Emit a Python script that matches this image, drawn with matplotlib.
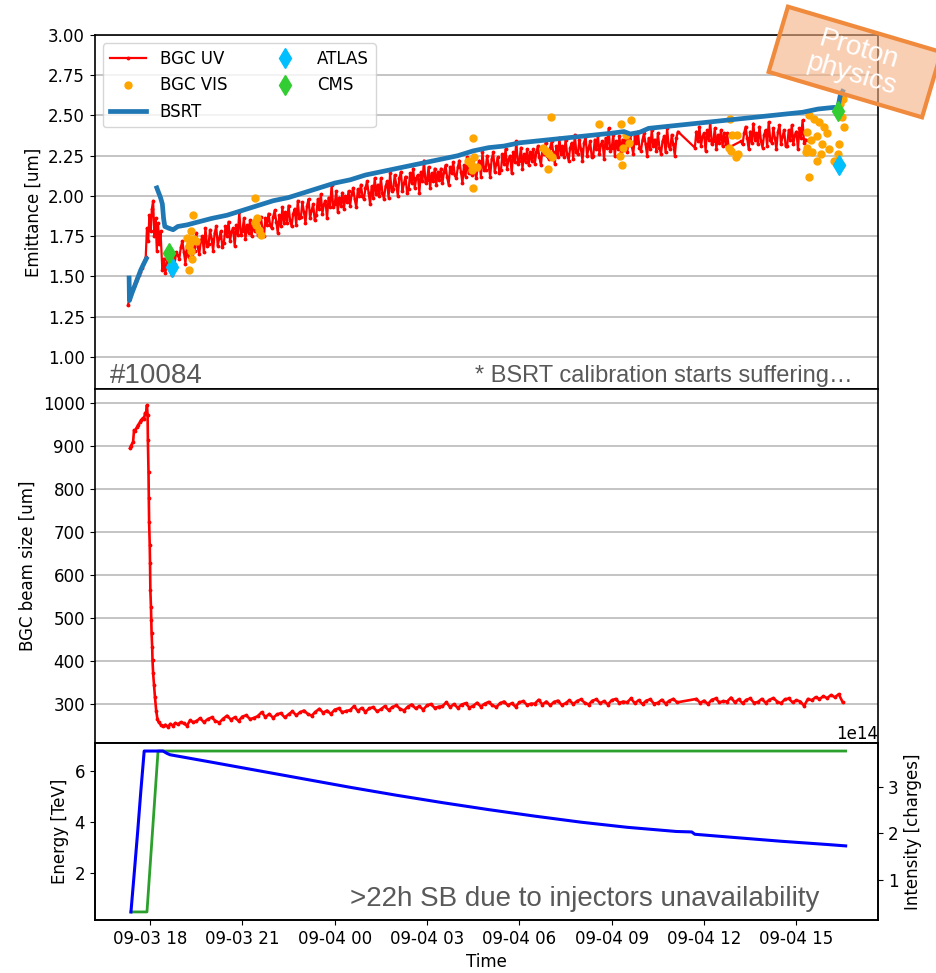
import numpy as np
import pandas as pd
import matplotlib
matplotlib.use("Agg")
import matplotlib.pyplot as plt
import matplotlib.dates as mdates
from matplotlib.patches import Rectangle
from matplotlib.ticker import MultipleLocator

# hours counted from 2024-09-03 00:00
T0 = pd.Timestamp("2024-09-03")

# --- BGC UV emittance ---
uv_ramp_hours = [17.28, 17.33, 17.38, 17.43, 17.48, 17.53, 17.58, 17.63, 17.68, 17.73, 17.78,
                 17.86, 17.90, 17.94, 17.98, 18.02, 18.06, 18.10, 18.14, 18.18, 18.22, 18.26,
                 18.30, 18.34]
uv_ramp = [1.32, 1.36, 1.39, 1.42, 1.44, 1.47, 1.49, 1.51, 1.53, 1.55, 1.58,
           1.62, 1.80, 1.72, 1.88, 1.78, 1.92, 1.97, 1.75, 1.86, 1.66, 1.83, 1.70, 1.78]
# logged every 0.05 h
uv_seg1_start = 18.4
uv_seg1 = [1.54, 1.61, 1.52, 1.59, 1.63, 1.56, 1.51, 1.62, 1.58, 1.65,
           1.63, 1.61, 1.68, 1.72, 1.65, 1.58, 1.69, 1.62, 1.74, 1.64,
           1.73, 1.66, 1.77, 1.68, 1.64, 1.72, 1.75, 1.65, 1.80, 1.69,
           1.70, 1.79, 1.73, 1.66, 1.77, 1.81, 1.69, 1.74, 1.78, 1.68,
           1.71, 1.81, 1.75, 1.84, 1.72, 1.78, 1.80, 1.69, 1.82, 1.76,
           1.90, 1.76, 1.78, 1.86, 1.73, 1.82, 1.77, 1.85, 1.75, 1.83,
           1.78, 1.85, 1.76, 1.83, 1.87, 1.80, 1.75, 1.86, 1.82, 1.89,
           1.82, 1.80, 1.87, 1.91, 1.84, 1.77, 1.88, 1.81, 1.93, 1.83,
           1.90, 1.83, 1.94, 1.85, 1.81, 1.89, 1.92, 1.82, 1.97, 1.86,
           1.87, 1.96, 1.90, 1.83, 1.94, 1.98, 1.86, 1.91, 1.95, 1.85,
           1.88, 1.98, 1.92, 2.01, 1.89, 1.95, 1.97, 1.86, 1.99, 1.93,
           2.07, 1.93, 1.95, 2.03, 1.90, 1.99, 1.94, 2.02, 1.92, 2.00,
           1.96, 2.03, 1.94, 2.01, 2.05, 1.98, 1.93, 2.04, 2.00, 2.07,
           2.00, 1.98, 2.05, 2.09, 2.02, 1.95, 2.06, 1.99, 2.11, 2.01,
           2.07, 2.00, 2.11, 2.02, 1.98, 2.06, 2.09, 1.99, 2.14, 2.03,
           2.04, 2.13, 2.07, 2.00, 2.11, 2.15, 2.03, 2.08, 2.12, 2.02,
           2.04, 2.14, 2.08, 2.17, 2.05, 2.11, 2.13, 2.02, 2.15, 2.09,
           2.22, 2.08, 2.10, 2.18, 2.05, 2.14, 2.09, 2.17, 2.07, 2.15,
           2.10, 2.17, 2.08, 2.15, 2.19, 2.12, 2.07, 2.18, 2.14, 2.21,
           2.13, 2.11, 2.18, 2.22, 2.15, 2.08, 2.19, 2.12, 2.24, 2.14,
           2.20, 2.13, 2.24, 2.15, 2.11, 2.19, 2.22, 2.12, 2.27, 2.16,
           2.16, 2.25, 2.19, 2.12, 2.23, 2.27, 2.15, 2.20, 2.24, 2.14,
           2.16, 2.26, 2.20, 2.29, 2.17, 2.23, 2.25, 2.14, 2.27, 2.21,
           2.34, 2.20, 2.22, 2.30, 2.17, 2.26, 2.21, 2.29, 2.19, 2.27,
           2.22, 2.29, 2.20, 2.27, 2.31, 2.24, 2.19, 2.30, 2.26, 2.33,
           2.25, 2.23, 2.30, 2.34, 2.27, 2.20, 2.31, 2.24, 2.36, 2.26,
           2.31, 2.24, 2.35, 2.26, 2.22, 2.30, 2.33, 2.23, 2.38, 2.27,
           2.26, 2.35, 2.29, 2.22, 2.33, 2.37, 2.25, 2.30, 2.34, 2.24,
           2.25, 2.35, 2.29, 2.38, 2.26, 2.32, 2.34, 2.23, 2.36, 2.30,
           2.42, 2.28, 2.30, 2.38, 2.25, 2.34, 2.29, 2.37, 2.27, 2.35,
           2.29, 2.36, 2.27, 2.34, 2.38, 2.31, 2.26, 2.37, 2.33, 2.40,
           2.30, 2.28, 2.35, 2.39, 2.32, 2.25, 2.36, 2.29, 2.41, 2.31,
           2.35, 2.28, 2.39, 2.30, 2.26, 2.34, 2.37, 2.27, 2.42, 2.31,
           2.29, 2.38, 2.32, 2.25, 2.36, 2.40]
uv_seg2_start = 35.7
uv_seg2 = [2.30, 2.40, 2.34, 2.43, 2.31, 2.37, 2.39, 2.28, 2.41, 2.35,
           2.46, 2.32, 2.34, 2.42, 2.29, 2.38, 2.33, 2.41, 2.31, 2.39,
           2.32, 2.39, 2.30]
uv_seg3_start = 37.2
uv_seg3 = [2.34, 2.32, 2.39, 2.43, 2.36, 2.29, 2.40, 2.33, 2.45, 2.35,
           2.39, 2.32, 2.43, 2.34, 2.30, 2.38, 2.41, 2.31, 2.46, 2.35,
           2.33, 2.42, 2.36, 2.29, 2.40, 2.44, 2.32, 2.37, 2.41, 2.31,
           2.31, 2.41, 2.35, 2.44, 2.32, 2.38, 2.40, 2.29, 2.42, 2.36,
           2.47, 2.33, 2.35]

# --- BGC VIS emittance ---
vis_hours = [19.40, 19.33, 19.20, 19.30, 19.43, 19.49, 19.27, 19.33, 19.35, 19.27,
             21.41, 21.47, 21.44, 21.54, 21.60, 21.41,
             28.49, 28.33, 28.42, 28.52, 28.62, 28.46, 28.49,
             31.02, 30.76, 30.86, 30.95, 31.05, 30.92, 32.60,
             33.30, 33.62, 33.35, 33.55, 33.28, 33.32, 33.45,
             36.83, 36.90, 37.06, 36.80, 36.87, 37.03, 37.10,
             39.40, 39.56, 39.72, 39.89, 39.98, 39.66, 39.46, 39.33, 39.82, 40.05,
             39.50, 39.66, 39.79, 40.38, 40.35, 40.45, 39.40, 40.22, 40.54, 40.48,
             40.42, 40.32, 40.50, 39.36, 39.30]
vis_vals = [1.88, 1.78, 1.74, 1.71, 1.73, 1.72, 1.69, 1.66, 1.61, 1.54,
            1.99, 1.86, 1.82, 1.79, 1.76, 1.84,
            2.36, 2.22, 2.20, 2.24, 2.18, 2.16, 2.05,
            2.49, 2.30, 2.28, 2.26, 2.24, 2.17, 2.45,
            2.45, 2.47, 2.30, 2.33, 2.25, 2.19, 2.38,
            2.48, 2.38, 2.38, 2.30, 2.28, 2.24, 2.26,
            2.50, 2.48, 2.46, 2.43, 2.39, 2.37, 2.35, 2.30, 2.32, 2.29,
            2.27, 2.22, 2.26, 2.32, 2.26, 2.19, 2.12, 2.22, 2.43, 2.49,
            2.57, 2.53, 2.60, 2.40, 2.27]

# --- BSRT emittance ---
bsrt_hours = [17.32, 17.33, 17.40, 17.50, 17.60, 17.70, 17.80, 17.88, 18.00,
              18.22, 18.28, 18.34, 18.40, 18.44, 18.48, 18.60, 18.75, 18.90, 19.20,
              19.60, 20.00, 20.50, 21.00, 21.50, 22.00, 22.50, 23.00, 23.50, 24.00,
              24.50, 25.00, 25.50, 26.00, 26.50, 27.00, 27.50, 28.00, 28.50, 29.00,
              29.50, 30.00, 30.50, 31.00, 31.50, 32.00, 32.50, 33.00, 33.40, 33.60,
              33.90, 34.20, 34.70, 35.20, 35.70, 36.20, 36.70, 37.20, 37.70, 38.20,
              38.70, 39.20, 39.70, 40.20, 40.35, 40.42, 40.50]
bsrt_vals = [1.49, 1.35, 1.39, 1.44, 1.49, 1.54, 1.58, 1.61, np.nan,
             2.05, 2.02, 1.99, 1.95, 1.86, 1.81, 1.80, 1.79, 1.81, 1.82,
             1.84, 1.86, 1.88, 1.91, 1.94, 1.97, 1.99, 2.02, 2.05, 2.08,
             2.10, 2.13, 2.15, 2.17, 2.19, 2.21, 2.23, 2.25, 2.28, 2.30,
             2.31, 2.33, 2.34, 2.35, 2.36, 2.37, 2.38, 2.39, 2.40, 2.385,
             2.395, 2.42, 2.43, 2.44, 2.45, 2.46, 2.47, 2.48, 2.49, 2.50,
             2.51, 2.52, 2.54, 2.55, 2.55, 2.62, 2.65]

# --- experiments ---
atlas_hours = [18.72, 40.40]
atlas_vals = [1.56, 2.19]
cms_hours = [18.62, 40.34]
cms_vals = [1.645, 2.53]

# --- BGC beam size ---
size_ramp_hours = [17.35, 17.38, 17.45, 17.48, 17.51, 17.58, 17.61, 17.68, 17.71, 17.77,
                   17.80, 17.84, 17.87, 17.90, 17.92, 17.93, 17.95, 17.96, 17.97, 17.99,
                   18.00, 18.01, 18.03, 18.04, 18.05, 18.07, 18.08, 18.10, 18.13, 18.16,
                   18.20, 18.24, 18.28, 18.35, 18.42, 18.50, 18.58, 18.66, 18.74, 18.82,
                   18.90, 19.00, 19.10, 19.20, 19.30, 19.40]
size_ramp = [895, 900, 910, 937, 935, 944, 948, 956, 960, 965,
             962, 977, 975, 995, 972, 914, 840, 779, 723, 670,
             628, 565, 526, 495, 465, 433, 402, 372, 344, 316,
             285, 265, 258, 252, 248, 252, 247, 254, 250, 256,
             253, 258, 255, 250, 262, 258]
# logged every 0.125 h
size_seg1_start = 19.5
size_seg1 = [260, 267, 258, 265, 269, 261, 257, 266,
             273, 264, 269, 261, 271, 274, 265, 268,
             272, 281, 270, 277, 268, 276, 279, 269,
             276, 283, 274, 281, 285, 277, 273, 282,
             289, 280, 285, 277, 287, 290, 281, 284,
             286, 295, 284, 291, 282, 290, 293, 283,
             288, 295, 286, 293, 297, 289, 285, 294,
             299, 290, 295, 287, 297, 300, 291, 294,
             295, 304, 293, 300, 291, 299, 302, 292,
             296, 303, 294, 301, 305, 297, 293, 302,
             306, 297, 302, 294, 304, 307, 298, 301,
             301, 310, 299, 306, 297, 305, 308, 298,
             302, 309, 300, 307, 311, 303, 299, 308,
             311, 302, 307, 299, 309, 312, 303, 306,
             304, 313, 302, 309, 300, 308, 311, 301,
             303, 310, 301, 308, 312, 304]
size_seg2_start = 35.75
size_seg2 = [312, 303, 308, 300, 310, 313, 304, 307,
             306, 315, 304, 311, 302, 310, 313, 303,
             305, 312, 303, 310, 314, 306, 302, 311,
             313, 304, 309, 306, 296, 312, 309, 316,
             312, 318, 314, 321, 316, 323, 305]

# --- beam energy and intensity ---
energy_hours = [17.38, 17.90, 18.26, 40.60]
energy_tev = [0.45, 0.45, 6.8, 6.8]
inten_hours = [17.38, 17.50, 17.60, 17.70, 17.81, 18.42, 18.55, 18.65, 20.0, 21.5,
               23.0, 24.5, 26.0, 27.5, 29.0, 30.5, 32.0, 33.5, 35.1, 35.6, 35.7,
               37.0, 38.5, 40.0, 40.6]
inten_1e14 = [0.31, 1.25, 2.05, 2.90, 3.77, 3.77, 3.72, 3.69, 3.53, 3.35,
              3.17, 2.99, 2.82, 2.66, 2.51, 2.37, 2.24, 2.13, 2.04, 2.03, 1.98,
              1.91, 1.83, 1.76, 1.73]


def to_time(hours):
    return T0 + pd.to_timedelta(np.asarray(hours, dtype=float), unit="h")


def sampled(start, step, vals):
    return np.round(start + step * np.arange(len(vals)), 3)


uv_h = np.concatenate([uv_ramp_hours, sampled(uv_seg1_start, 0.05, uv_seg1),
                       sampled(uv_seg2_start, 0.05, uv_seg2), sampled(uv_seg3_start, 0.05, uv_seg3)])
uv_v = np.concatenate([uv_ramp, uv_seg1, uv_seg2, uv_seg3])
size_h = np.concatenate([size_ramp_hours, sampled(size_seg1_start, 0.125, size_seg1),
                         sampled(size_seg2_start, 0.125, size_seg2)])
size_v = np.concatenate([size_ramp, size_seg1, size_seg2])

plt.rcParams["font.size"] = 12
fig, (ax1, ax2, ax3) = plt.subplots(3, 1, sharex=True, figsize=(9.37, 9.73), dpi=100,
                                    gridspec_kw={"height_ratios": [2, 2, 1], "hspace": 0})
fig.subplots_adjust(left=0.101, right=0.937, top=0.964, bottom=0.0545)

ax1.plot(to_time(uv_h), uv_v, color="red", lw=1.6, marker=".", ms=3.5, label="BGC UV")
ax1.plot(to_time(vis_hours), vis_vals, "o", color="orange", ms=5, ls="none", label="BGC VIS")
ax1.plot(to_time(bsrt_hours), bsrt_vals, color="#1f77b4", lw=3.4, label="BSRT")
ax1.plot(to_time(atlas_hours), atlas_vals, "d", color="deepskyblue", ms=10, ls="none", label="ATLAS")
ax1.plot(to_time(cms_hours), cms_vals, "d", color="limegreen", ms=10, ls="none", label="CMS")
ax1.set_ylim(0.8, 3.0)
ax1.yaxis.set_major_locator(MultipleLocator(0.25))
ax1.set_ylabel("Emittance [um]")
ax1.grid(axis="y", color="0.75", lw=1.3)
ax1.legend(loc="upper left", ncol=2, fontsize=12, handlelength=2.2, columnspacing=2.4)

ann = dict(color="#595959", family="Liberation Sans")
ax1.text(0.019, 0.017, "#10084", transform=ax1.transAxes, fontsize=20, va="baseline", **ann)
ax1.text(0.968, 0.02, "* BSRT calibration starts suffering…", transform=ax1.transAxes,
         fontsize=17, ha="right", va="baseline", **ann)

ax2.plot(to_time(size_h), size_v, color="red", lw=1.9, marker=".", ms=3.5)
ax2.set_ylabel("BGC beam size [um]")
ax2.grid(axis="y", color="0.75", lw=1.3)

ax3.plot(to_time(energy_hours), energy_tev, color="#2ca02c", lw=2)
ax3.set_ylabel("Energy [TeV]")
ax3.yaxis.set_major_locator(MultipleLocator(2))
ax3b = ax3.twinx()
ax3b.plot(to_time(inten_hours), np.array(inten_1e14) * 1e14, color="blue", lw=2.2)
ax3b.yaxis.set_major_locator(MultipleLocator(1e14))
ax3b.set_ylabel("Intensity [charges]")
ax3.text(0.326, 0.079, ">22h SB due to injectors unavailability", transform=ax3.transAxes,
         fontsize=20, va="baseline", **ann)

ax3.set_xlim(to_time([16.2])[0], to_time([41.65])[0])
ax3.xaxis.set_major_locator(mdates.HourLocator(byhour=range(0, 24, 3)))
ax3.xaxis.set_major_formatter(mdates.DateFormatter("%m-%d %H"))
ax3.set_xlabel("Time")

for a in (ax1, ax2, ax3, ax3b):
    for s in a.spines.values():
        s.set_linewidth(1.2)

# "Proton physics" tag, half outside the top right corner
box = Rectangle((7.75, 8.77), 1.6, 0.68, angle=-16.5, rotation_point="center",
                transform=fig.dpi_scale_trans, facecolor=(0.96, 0.69, 0.51, 0.6),
                edgecolor="#f08a3c", lw=3, clip_on=False)
fig.add_artist(box)
fig.text(8.55 / 9.37, 9.11 / 9.73, "Proton\nphysics", rotation=-16.5, rotation_mode="anchor",
         ha="center", va="center", color="white", fontsize=20, family="Liberation Sans",
         linespacing=1.0)

fig.savefig("out.png", dpi=100)
